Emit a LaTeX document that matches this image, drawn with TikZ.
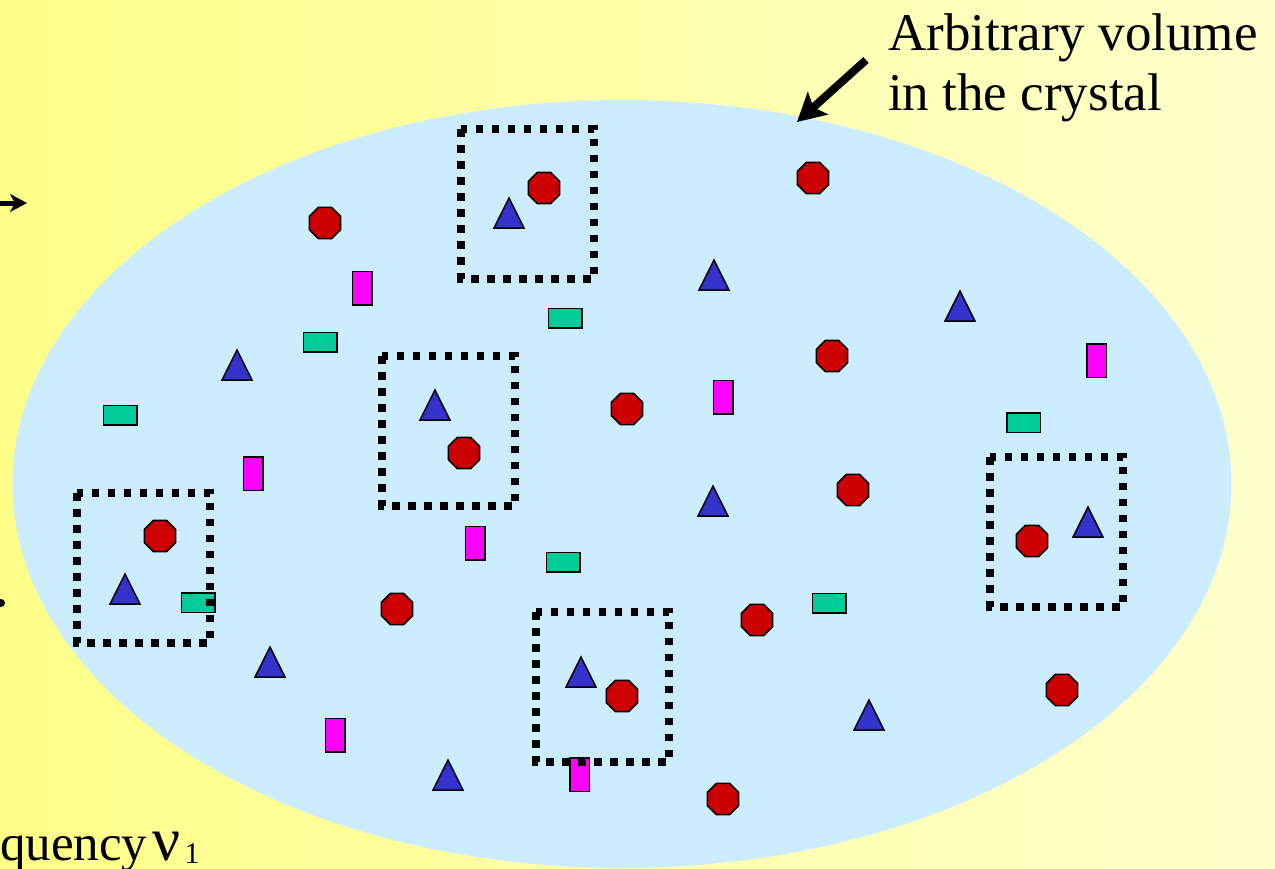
\documentclass[tikz,border=0pt]{standalone}
\usepackage{fontspec}
\setmainfont{Liberation Serif}
\usetikzlibrary{shapes.geometric,arrows.meta}
\definecolor{bgleft}{RGB}{255,255,136}
\definecolor{bgright}{RGB}{255,255,204}
\definecolor{volblue}{RGB}{204,236,255}
\definecolor{atomred}{RGB}{204,0,0}
\definecolor{atomblue}{RGB}{51,51,204}
\definecolor{atommag}{RGB}{255,0,255}
\definecolor{atomgrn}{RGB}{0,204,153}

\begin{document}
\begin{tikzpicture}[x=1pt,y=-1pt,
  octa/.style={regular polygon, regular polygon sides=8, minimum size=34pt,
    inner sep=0pt, outer sep=0pt, fill=atomred, draw=black, line width=1.5pt},
  tallbar/.style={rectangle, minimum width=19.5pt, minimum height=33.5pt,
    inner sep=0pt, outer sep=0pt, fill=atommag, draw=black, line width=1.5pt},
  widebar/.style={rectangle, minimum width=33.5pt, minimum height=19.5pt,
    inner sep=0pt, outer sep=0pt, fill=atomgrn, draw=black, line width=1.5pt},
  tri/.style={fill=atomblue, draw=black, line width=1.5pt},
  cell/.style={draw=black, line width=7.5pt, dash pattern=on 7.5pt off 8.5pt},
  lbl/.style={font=\fontsize{53}{60}\selectfont, inner sep=0pt, anchor=base west}
]
\useasboundingbox (0,0) rectangle (1275,868);

% background
\shade[left color=bgleft, right color=bgright] (0,0) rectangle (1275,868);

% the volume of crystal
\node[ellipse, fill=volblue, minimum width=1219pt, minimum height=768pt,
      inner sep=0pt] (vol) at (622,484) {};

% atoms of the first kind
\foreach \p [count=\i] in {(544,188),(325,223),(813,178),(832,356),(627,409),
    (464,453),(853,490),(160,536),(1032,541),(397,609),(757,620),(622,696),
    (1062,690),(723,799)}
  \node[octa] (oct\i) at \p {};

% atoms of the second kind
\foreach \x/\y in {509/213,714/275,960/306,237/365,435/405,713/501,1088/522,
    125/589,270/662,581/672,869/715,448/775}
  \draw[tri] (\x-15,\y+15) -- (\x+15,\y+15) -- (\x,\y-15) -- cycle;

% atoms of the third kind
\foreach \p [count=\i] in {(362,288),(1096.5,360.5),(723,397),(253,473.5),
    (475,543),(335,735),(579.5,774.5)}
  \node[tallbar] (mag\i) at \p {};

% atoms of the fourth kind
\foreach \p [count=\i] in {(565,318),(320,342),(120,415),(1023.5,422.5),
    (563,562),(198,602.5),(829,603)}
  \node[widebar] (grn\i) at \p {};

% unit cells
\foreach \x/\y in {461/129,382/356,77/493,990/457,536/612}
  \draw[cell] (\x,\y) rectangle ++(133,150);

% incoming beam
\coordinate (beamtail) at (-5,203);
\coordinate (beamhead) at (27,203);
\draw[line width=5pt, -{Stealth[length=17pt,width=18pt,inset=5pt]}]
  (beamtail) -- (beamhead);
\fill (1,603) circle (4);

% label and pointer
\node[lbl] (vollbl) at (888,50) {Arbitrary volume};
\node[lbl] (vollbl2) at (888,110) {in the crystal};
\coordinate (ptail) at (866,60);
\coordinate (phead) at (797,122);
\draw[line width=8pt, -{Stealth[length=28pt,width=30pt,inset=6pt]}]
  (ptail) -- (phead);

% frequency label
\node[lbl, font=\fontsize{51}{60}\selectfont] (freq) at (0,860)
  {quency\hspace{5pt}{\fontsize{62}{60}\selectfont ν}\kern4pt\raisebox{-3pt}{\fontsize{30}{30}\selectfont 1}};
\end{tikzpicture}
\end{document}
